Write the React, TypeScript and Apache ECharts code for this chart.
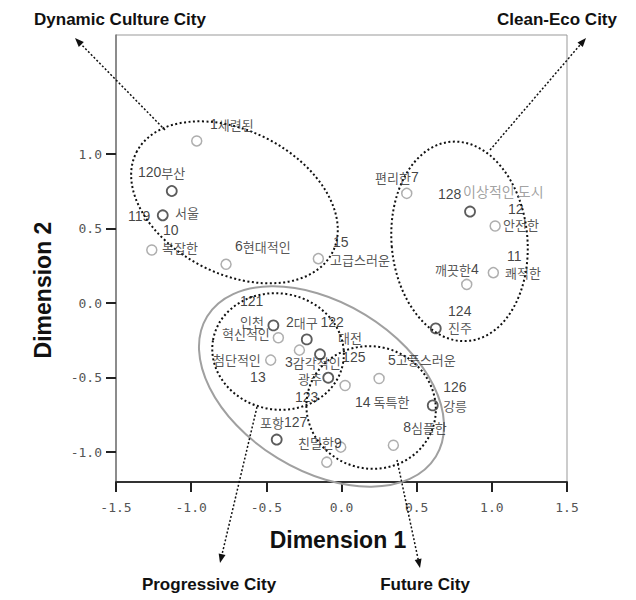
import React, { useEffect, useRef } from "react";
import * as echarts from "echarts";

// ---- data ----
// city points (dark circles)
const cityX = [-1.129, -1.189, 0.855, 0.627, -0.453, -0.231, -0.143, -0.088, -0.431, 0.607];
const cityY = [0.753, 0.59, 0.615, -0.169, -0.149, -0.243, -0.343, -0.5, -0.915, -0.686];
// attribute points (grey circles)
const attrX = [-0.963, -1.262, -0.768, -0.154, 0.434, 1.022, 1.01, 0.833, -0.42, -0.28, -0.471, 0.024, 0.25, 0.345, -0.005, -0.098];
const attrY = [1.089, 0.357, 0.261, 0.299, 0.737, 0.518, 0.205, 0.126, -0.232, -0.315, -0.382, -0.552, -0.505, -0.953, -0.966, -1.067];

// point labels (left edge x, centre y)
const labelTexts = [
  "1세련된", "120부산", "119", "서울", "10", "복잡한", "6현대적인", "15", "고급스러운",
  "편리한7", "128", "이상적인 도시", "12", "안전한", "11", "쾌적한", "깨끗한4", "124", "진주",
  "121", "인천", "혁신적인", "2대구", "122", "대전", "첨단적인", "13", "3감각적인", "125",
  "광주", "123", "5고풍스러운", "14 독특한", "126", "강릉", "8심플한", "포항127", "친밀한9",
];
const labelX = [
  -0.875, -1.354, -1.42, -1.107, -1.187, -1.194, -0.708, -0.056, -0.076,
  0.223, 0.642, 0.809, 1.108, 1.075, 1.101, 1.088, 0.622, 0.709, 0.709,
  -0.675, -0.675, -0.795, -0.369, -0.14, -0.023, -0.855, -0.608, -0.376, 0.004,
  -0.289, -0.309, 0.31, 0.09, 0.676, 0.676, 0.41, -0.542, -0.289,
];
const labelY = [
  1.201, 0.878, 0.583, 0.61, 0.49, 0.372, 0.381, 0.412, 0.29,
  0.845, 0.731, 0.751, 0.635, 0.525, 0.318, 0.203, 0.227, -0.05, -0.16,
  0.012, -0.122, -0.205, -0.129, -0.129, -0.23, -0.377, -0.498, -0.395, -0.359,
  -0.508, -0.63, -0.378, -0.66, -0.562, -0.684, -0.834, -0.8, -0.935,
];
const idealLabel = "이상적인 도시";

const yTicks = [-1.0, -0.5, 0.0, 0.5, 1.0];

// group ellipses: centre (data units), semi-axes (x units), rotation (deg)
const ellipseCx = [-0.712, 0.785, -0.422, 0.197, -0.133];
const ellipseCy = [0.677, 0.415, -0.324, -0.7, -0.559];
const ellipseRx = [0.732, 0.452, 0.439, 0.432, 0.892];
const ellipseRy = [0.476, 0.665, 0.386, 0.406, 0.559];
const ellipseRot = [-27, 5, -10, -15, -31.5];
const ellipseSolid = [false, false, false, false, true];

// group names and arrows (page pixels)
const groupNames = ["Dynamic Culture City", "Clean-Eco City", "Progressive City", "Future City"];
const groupNameX = [120, 557, 209, 425];
const groupNameY = [19, 19, 584, 584];
const arrowFrom = [[165, 130], [490, 150], [257, 407], [397, 460]];
const arrowTo = [[75, 38], [586, 38], [220, 563], [420, 568]];

const toRich = (s: string) =>
  s === idealLabel
    ? `{g|${s}}`
    : s.replace(/(\d+)|([^\d]+)/g, (m: string, d: string) => (d ? `{n|${m}}` : `{k|${m}}`));

export default function App() {
  const ref = useRef<HTMLDivElement>(null);
  useEffect(() => {
    document.body.style.margin = "0";
    const chart = echarts.init(ref.current!, null, { renderer: "svg" });
    const axisFont = { fontFamily: "DejaVu Sans Mono", fontSize: 13, color: "#555" };
    chart.setOption({
      animation: false,
      grid: { left: 116, right: 69, top: 35, bottom: 118, show: true, borderColor: "#999", borderWidth: 1 },
      xAxis: {
        type: "value",
        min: -1.5,
        max: 1.5,
        interval: 0.5,
        axisLine: { show: true, onZero: false, lineStyle: { color: "#333", width: 2 } },
        axisTick: { show: true, length: 10, lineStyle: { color: "#222", width: 2 } },
        axisLabel: { ...axisFont, margin: 19, formatter: (v: number) => v.toFixed(1) },
        splitLine: { show: false },
      },
      yAxis: {
        type: "value",
        min: -1.2,
        max: 1.8,
        axisLine: { show: true, onZero: false, lineStyle: { color: "#777", width: 1.5 } },
        axisTick: { show: true, length: 10, customValues: yTicks, lineStyle: { color: "#222", width: 2 } },
        axisLabel: { ...axisFont, margin: 14, customValues: yTicks, formatter: (v: number) => v.toFixed(1) },
        splitLine: { show: false },
      },
      series: [
        {
          type: "scatter",
          symbol: "circle",
          symbolSize: 10,
          z: 3,
          itemStyle: { color: "rgba(255,255,255,0)", borderColor: "#9a9a9a", borderWidth: 1.5 },
          data: attrX.map((x, i) => [x, attrY[i]]),
        },
        {
          type: "scatter",
          symbol: "circle",
          symbolSize: 10,
          z: 3,
          itemStyle: { color: "rgba(255,255,255,0)", borderColor: "#333", borderWidth: 1.8 },
          data: cityX.map((x, i) => [x, cityY[i]]),
        },
        {
          type: "scatter",
          symbolSize: 0,
          silent: true,
          z: 4,
          label: {
            show: true,
            position: "right",
            distance: 0,
            formatter: (p: any) => toRich(p.name),
            rich: {
              n: { fontFamily: "Liberation Sans", fontSize: 14, color: "#111" },
              k: { fontFamily: "Noto Sans CJK KR", fontSize: 13, color: "#2a2a2a" },
              g: { fontFamily: "Noto Sans CJK KR", fontSize: 14, color: "#8a8a8a" },
            },
          },
          data: labelX.map((x, i) => ({ value: [x, labelY[i]], name: labelTexts[i] })),
        },
      ],
    });

    const o = chart.convertToPixel({ gridIndex: 0 }, [0, 0]) as number[];
    const u = chart.convertToPixel({ gridIndex: 0 }, [1, 0]) as number[];
    const pxPerX = u[0] - o[0];
    const graphics: any[] = [];
    ellipseCx.forEach((cx, i) => {
      const c = chart.convertToPixel({ gridIndex: 0 }, [cx, ellipseCy[i]]) as number[];
      graphics.push({
        type: "ellipse",
        x: c[0],
        y: c[1],
        rotation: (ellipseRot[i] * Math.PI) / 180,
        z: 1,
        silent: true,
        shape: { cx: 0, cy: 0, rx: ellipseRx[i] * pxPerX, ry: ellipseRy[i] * pxPerX },
        style: ellipseSolid[i]
          ? { fill: "none", stroke: "#a0a0a0", lineWidth: 2 }
          : { fill: "none", stroke: "#111", lineWidth: 2, lineDash: [2, 2.5] },
      });
    });
    arrowFrom.forEach((f, i) => {
      const t = arrowTo[i];
      const dx = t[0] - f[0];
      const dy = t[1] - f[1];
      const len = Math.hypot(dx, dy);
      const ux = dx / len;
      const uy = dy / len;
      const nx = -uy;
      const ny = ux;
      graphics.push({
        type: "line",
        z: 1,
        silent: true,
        shape: { x1: f[0], y1: f[1], x2: t[0] - ux * 6, y2: t[1] - uy * 6 },
        style: { stroke: "#111", lineWidth: 1.5, lineDash: [2, 2] },
      });
      graphics.push({
        type: "polygon",
        z: 1,
        silent: true,
        shape: {
          points: [
            [t[0], t[1]],
            [t[0] - ux * 9 + nx * 3.5, t[1] - uy * 9 + ny * 3.5],
            [t[0] - ux * 9 - nx * 3.5, t[1] - uy * 9 - ny * 3.5],
          ],
        },
        style: { fill: "#111" },
      });
    });
    groupNames.forEach((n, i) => {
      graphics.push({
        type: "text",
        x: groupNameX[i],
        y: groupNameY[i],
        style: {
          text: n,
          textAlign: "center",
          textVerticalAlign: "middle",
          fontFamily: "Liberation Sans",
          fontWeight: "bold",
          fontSize: 17,
          fill: "#111",
        },
      });
    });
    graphics.push({
      type: "text",
      x: 338,
      y: 540,
      style: {
        text: "Dimension 1",
        textAlign: "center",
        textVerticalAlign: "middle",
        fontFamily: "Liberation Sans",
        fontWeight: "bold",
        fontSize: 23,
        fill: "#111",
      },
    });
    graphics.push({
      type: "text",
      x: 43,
      y: 290,
      rotation: Math.PI / 2,
      style: {
        text: "Dimension 2",
        textAlign: "center",
        textVerticalAlign: "middle",
        fontFamily: "Liberation Sans",
        fontWeight: "bold",
        fontSize: 23,
        fill: "#111",
      },
    });
    chart.setOption({ graphic: graphics });
    return () => chart.dispose();
  }, []);
  return <div ref={ref} style={{ position: "absolute", left: 0, top: 0, width: 636, height: 600 }} />;
}
